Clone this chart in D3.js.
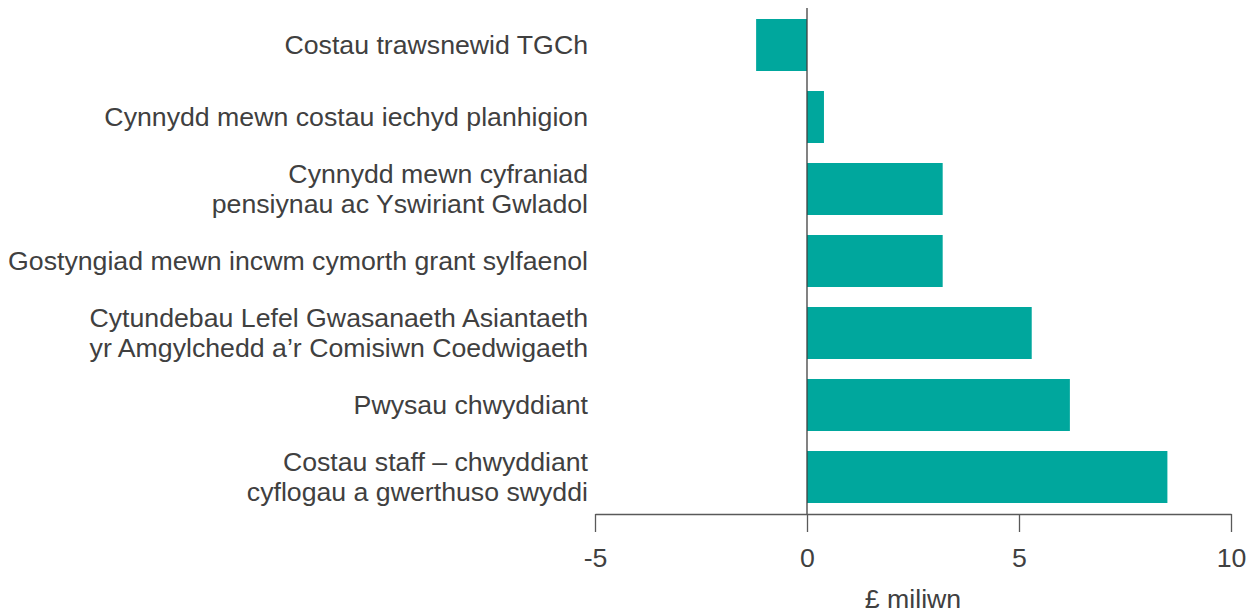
<!DOCTYPE html>
<html>
<head>
<meta charset="utf-8">
<script src="https://cdn.jsdelivr.net/npm/d3@7"></script>
<style>
  body { margin: 0; background: #fff; }
  text { font-family: "Liberation Sans", Arial, sans-serif; fill: #404040; }
</style>
</head>
<body>
<div id="chart"></div>
<script>
// Categories (top to bottom), each may span two lines
const categories = [
    ['Costau trawsnewid TGCh'],
    ['Cynnydd mewn costau iechyd planhigion'],
    ['Cynnydd mewn cyfraniad', 'pensiynau ac Yswiriant Gwladol'],
    ['Gostyngiad mewn incwm cymorth grant sylfaenol'],
    ['Cytundebau Lefel Gwasanaeth Asiantaeth', 'yr Amgylchedd a\u2019r Comisiwn Coedwigaeth'],
    ['Pwysau chwyddiant'],
    ['Costau staff \u2013 chwyddiant', 'cyflogau a gwerthuso swyddi']
];
const values = [-1.2, 0.4, 3.2, 3.2, 5.3, 6.2, 8.5];
const xTicks = [-5, 0, 5, 10];
const xTitle = '\u00a3 miliwn';

const width = 1251, height = 613;
const margin = { top: 9, right: 20, bottom: 100, left: 595 };

const svg = d3.select('#chart')
    .append('svg')
    .attr('width', width)
    .attr('height', height);

const x = d3.scaleLinear().domain([-5, 10]).range([margin.left, 1231]);
const y = d3.scaleBand()
    .domain(d3.range(categories.length))
    .range([margin.top, 513])
    .paddingInner(20 / 72)
    .paddingOuter(10 / 72);

// Bars
svg.append('g')
    .selectAll('rect')
    .data(values)
    .join('rect')
    .attr('x', d => x(Math.min(0, d)))
    .attr('y', (d, i) => y(i))
    .attr('width', d => Math.abs(x(d) - x(0)))
    .attr('height', y.bandwidth())
    .attr('fill', '#00a79d');

// Zero line
svg.append('line')
    .attr('x1', x(0)).attr('x2', x(0))
    .attr('y1', 8).attr('y2', 514)
    .attr('stroke', '#404040')
    .attr('stroke-width', 1.3);

// X axis
const xAxis = d3.axisBottom(x)
    .tickValues(xTicks)
    .tickFormat(d => String(d))
    .tickSize(18)
    .tickPadding(16)
    .tickSizeOuter(0);
const gx = svg.append('g')
    .attr('transform', 'translate(0,514)')
    .call(xAxis);
gx.select('.domain').attr('stroke', '#595959').attr('stroke-width', 1.3);
gx.selectAll('.tick line').attr('stroke', '#595959').attr('stroke-width', 1.3);
gx.selectAll('.tick text')
    .style('font-size', '26.7px')
    .style('font-family', '"Liberation Sans", Arial, sans-serif')
    .attr('fill', '#404040');

svg.append('text')
    .attr('x', x(2.5))
    .attr('y', 608)
    .attr('text-anchor', 'middle')
    .style('font-size', '26.7px')
    .text(xTitle);

// Category labels
const labels = svg.append('g')
    .selectAll('text')
    .data(categories)
    .join('text')
    .attr('text-anchor', 'end')
    .style('font-size', '26.7px')
    .attr('y', (d, i) => y(i) + y.bandwidth() / 2);

labels.selectAll('tspan')
    .data(d => d.map((line, j) => ({ line, j, n: d.length })))
    .join('tspan')
    .attr('x', 588)
    .attr('dy', d => d.j === 0 ? (0.35 - (d.n - 1) * 0.56) + 'em' : '1.12em')
    .text(d => d.line);
</script>
</body>
</html>
